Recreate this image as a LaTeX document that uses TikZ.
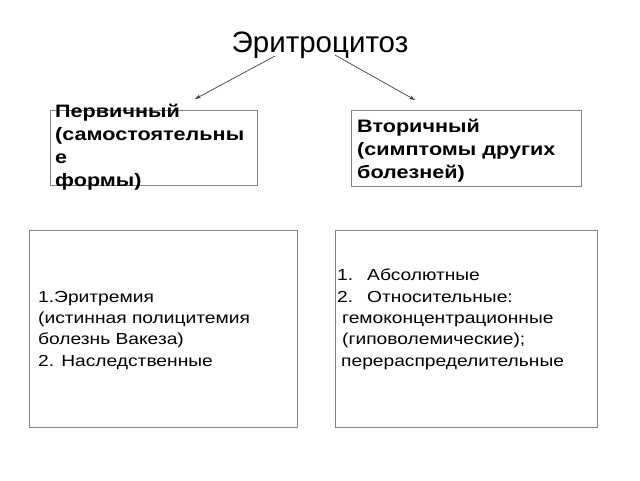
\documentclass[tikz,border=0pt]{standalone}
\usepackage{fontspec}
\setmainfont{Liberation Sans}
\newfontfamily\widefont[FakeStretch=1.2]{Liberation Sans}
\usetikzlibrary{arrows.meta}
\begin{document}
\begin{tikzpicture}[x=1pt,y=-1pt,
  frame/.style={draw=black!50,line width=0.9pt},
  arr/.style={draw=black!75,line width=0.7pt,-{Stealth[length=6pt,width=4pt]}},
  bigtxt/.style={anchor=base west,inner sep=0pt,align=left,font=\widefont\fontsize{18}{23}\selectfont\bfseries},
  smalltxt/.style={anchor=base west,inner sep=0pt,align=left,font=\widefont\fontsize{16}{21.3}\selectfont}]
\useasboundingbox (0,0) rectangle (640,480);
\node[anchor=base,inner sep=0pt,font=\fontsize{29.5}{36}\selectfont] (title) at (320,52) {Эритроцитоз};
\draw[frame] (50,110) rectangle (257,185);
\draw[frame] (351,110) rectangle (581,186);
\draw[frame] (29,230) rectangle (297,427);
\draw[frame] (335,230) rectangle (597,427);
\coordinate (la) at (275,56);
\coordinate (lb) at (195,99);
\coordinate (ra) at (335,55);
\coordinate (rb) at (415,100);
\draw[arr] (la) -- (lb);
\draw[arr] (ra) -- (rb);
\node[bigtxt] (p1) at (55,186) {Первичный\\(самостоятельны\\е\\формы)};
\node[bigtxt] (p2) at (357,178) {Вторичный\\(симптомы других\\болезней)};
\node[smalltxt] (p3) at (38,366) {1.Эритремия\\(истинная полицитемия\\болезнь Вакеза)\\2. Наследственные};
\node[smalltxt] (p4) at (337,366) {\makebox[30pt][l]{1.}Абсолютные\\\makebox[30pt][l]{2.}Относительные:\\\hspace*{5pt}гемоконцентрационные\\\hspace*{5pt}(гиповолемические);\\\hspace*{4pt}перераспределительные};
\end{tikzpicture}
\end{document}
